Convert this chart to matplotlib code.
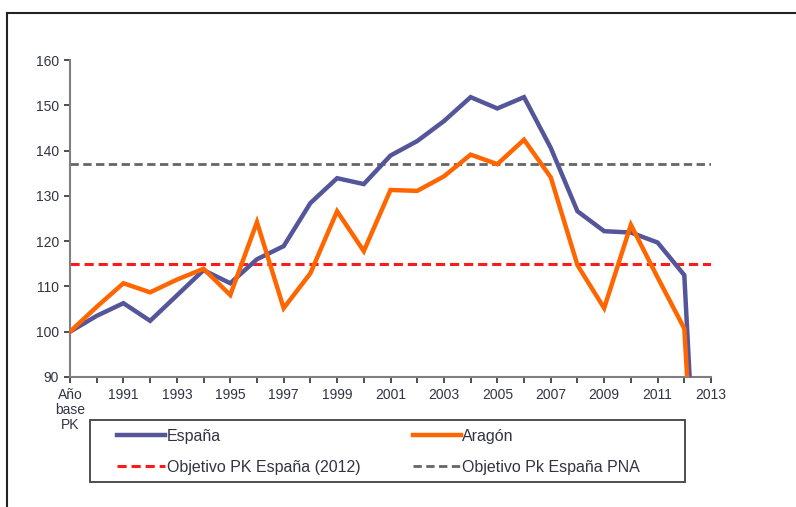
import numpy as np
import matplotlib
matplotlib.use('Agg')
import matplotlib.pyplot as plt
from matplotlib.lines import Line2D
from matplotlib.patches import Rectangle

plt.rcParams['font.family'] = ['Liberation Sans', 'DejaVu Sans']

# categories: base year, then 1990..2013
categories = ['Año\nbase\nPK'] + [str(y) for y in range(1990, 2014)]
espana = [100, 103.5, 106.3, 102.4, 108.0, 113.6, 110.7, 116.0, 118.9, 128.4,
          133.9, 132.6, 138.9, 142.1, 146.5, 151.8, 149.3, 151.8, 140.6,
          126.6, 122.2, 121.9, 119.7, 112.5, 0]
aragon = [100, 105.5, 110.7, 108.7, 111.5, 113.9, 108.1, 124.2, 105.2, 112.9,
          126.6, 117.8, 131.3, 131.1, 134.3, 139.1, 137.0, 142.4, 134.1,
          114.7, 105.2, 123.6, 112.0, 100.7, 0]
obj_2012 = 115
obj_pna = 137

fig = plt.figure(figsize=(7.96, 5.07), dpi=100)
ax = fig.add_axes([70/796, 1-377/507, (711-70)/796, (377-60)/507])

x = np.arange(len(categories))
ax.plot(x, espana, color='#55559a', lw=3.2, solid_joinstyle='miter', label='España', zorder=3)
ax.plot(x, aragon, color='#ff6600', lw=3.2, solid_joinstyle='miter', label='Aragón', zorder=3)
ax.plot(x, [obj_2012]*len(x), color='#ff1a1a', lw=2.2, ls=(0, (3, 1.6)),
        label='Objetivo PK España (2012)', zorder=2)
ax.plot(x, [obj_pna]*len(x), color='#666666', lw=2.0, ls=(0, (3, 1.6)),
        label='Objetivo Pk España PNA', zorder=2)

ax.set_xlim(0, len(x) - 1)
ax.set_ylim(90, 160)
ax.set_yticks(range(90, 161, 10))
ax.set_xticks(x)
ax.set_xticklabels([c if (i % 2 == 0) else '' for i, c in enumerate(categories)],
                   linespacing=1.1)

for s in ['top', 'right']:
    ax.spines[s].set_visible(False)
for s in ['left', 'bottom']:
    ax.spines[s].set_color('#7f7f7f')
    ax.spines[s].set_linewidth(1.5)
ax.tick_params(direction='out', length=4, width=1.3, color='#404040',
               labelsize=10, labelcolor='#333344', pad=4)

handles = ax.get_lines()
order = [handles[0], handles[2], handles[1], handles[3]]
leg = fig.legend(order, [h.get_label() for h in order], ncol=2,
                 loc='upper left', bbox_to_anchor=(117/796, 1-429/507),
                 fontsize=11.5, frameon=False, borderpad=0, borderaxespad=0,
                 handlelength=3.0, handletextpad=0.1, labelspacing=1.0,
                 columnspacing=3.3)
for t in leg.get_texts():
    t.set_color('#333344')

# legend box
fig.add_artist(Rectangle((90/796, 1-482/507), 595/796, 62/507, transform=fig.transFigure,
                         fill=False, edgecolor='#404040', lw=1.3))

# outer frame (top and left edges visible)
fig.add_artist(Line2D([7/796, 1], [1-13/507, 1-13/507], color='#222222', lw=1.5))
fig.add_artist(Line2D([7/796, 7/796], [0, 1-13/507], color='#222222', lw=1.5))

fig.savefig('out.png', dpi=100)
